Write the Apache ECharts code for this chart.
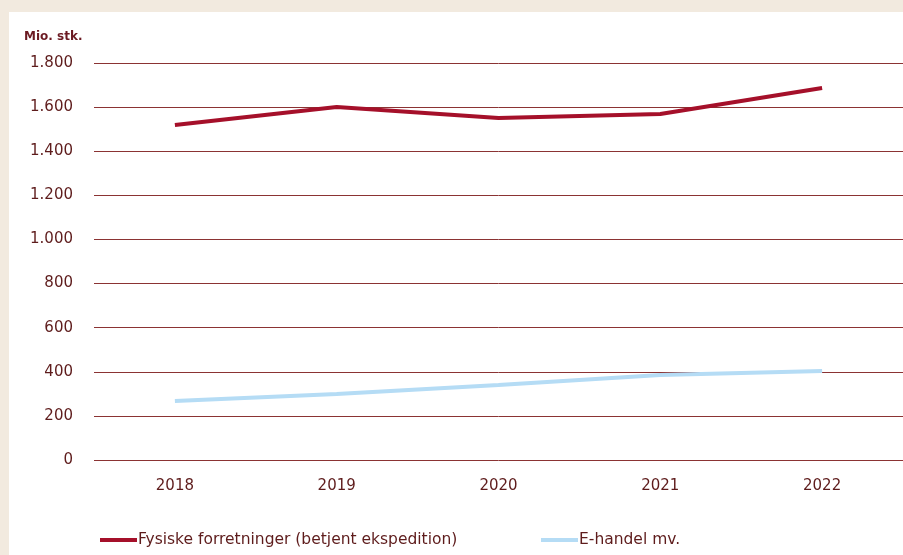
<!DOCTYPE html>
<html><head><meta charset="utf-8">
<script src="https://cdn.jsdelivr.net/npm/echarts@6/dist/echarts.min.js"></script>
<style>html,body{margin:0;padding:0;background:#f2eadf;}#wrap{position:absolute;left:9px;top:12px;right:0;bottom:0;background:#fff;}#c{position:absolute;left:0;top:0;width:903px;height:555px;}</style>
</head><body><div id="wrap"></div><div id="c"></div>
<script>
const years = ['2018','2019','2020','2021','2022'];
const fysiske = [1519, 1600, 1551, 1569, 1687];
const ehandel = [267, 299, 340, 385, 403];
const yTicks = [0,200,400,600,800,1000,1200,1400,1600,1800];
const seriesNames = ['Fysiske forretninger (betjent ekspedition)', 'E-handel mv.'];

const txt = '#5e1c1c';
const ff = 'DejaVu Sans';
const chart = echarts.init(document.getElementById('c'));
chart.setOption({
  backgroundColor: 'transparent',
  animation: false,
  textStyle: {fontFamily: ff},
  grid: {left: 94, right: -9, top: 63, bottom: 95, containLabel: false},
  title: {text: 'Mio. stk.', left: 24, top: 31, padding: 0, textStyle: {fontSize: 12, fontWeight: 'bold', color: '#6b1a22', fontFamily: ff}},
  legend: [
    {data: [seriesNames[0]], left: 100, top: 532, padding: 0, itemWidth: 37, itemHeight: 4, icon: 'rect', itemGap: 0,
     textStyle: {fontSize: 15.5, color: txt, fontFamily: ff, padding: [0,0,0,-4]}},
    {data: [seriesNames[1]], left: 541, top: 532, padding: 0, itemWidth: 37, itemHeight: 4, icon: 'rect', itemGap: 0,
     textStyle: {fontSize: 15.5, color: txt, fontFamily: ff, padding: [0,0,0,-4]}}
  ],
  xAxis: {type: 'category', data: years, boundaryGap: true,
    axisLine: {show: false}, axisTick: {show: false},
    axisLabel: {color: txt, fontSize: 15, fontFamily: ff, margin: 19}},
  yAxis: {type: 'value', min: 0, max: 1800, interval: 200,
    axisLine: {show: false}, axisTick: {show: false},
    splitLine: {lineStyle: {color: '#8b3333', width: 1}},
    axisLabel: {color: txt, fontSize: 15, fontFamily: ff, margin: 21,
      formatter: v => yTicks.includes(v) ? v.toLocaleString('da-DK') : ''}},
  series: [
    {name: seriesNames[0], type: 'line', data: fysiske, symbol: 'none', lineStyle: {color: '#a5102a', width: 4}, itemStyle: {color: '#a5102a'}},
    {name: seriesNames[1], type: 'line', data: ehandel, symbol: 'none', lineStyle: {color: '#b5dcf5', width: 4}, itemStyle: {color: '#b5dcf5'}}
  ]
});
</script></body></html>
